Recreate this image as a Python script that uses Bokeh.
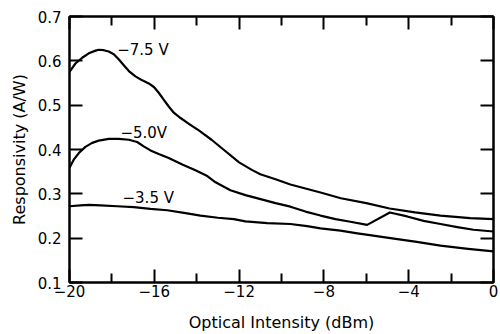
from bokeh.plotting import figure
from bokeh.models import (Range1d, LinearAxis, FixedTicker, ColumnDataSource,
                          CustomJSTickFormatter)
from bokeh.core.properties import value
from bokeh.embed import file_html
from bokeh.resources import INLINE

# ---- data ----
x_75 = [-20.0, -19.72, -19.4, -19.09, -18.77, -18.62, -18.38, -18.15, -17.91,
        -17.67, -17.44, -17.2, -16.89, -16.57, -16.26, -16.02, -15.79, -15.55,
        -15.32, -15.08, -14.76, -14.37, -13.9, -13.3, -12.64, -12.0, -11.4,
        -11.0, -10.28, -9.58, -8.87, -8.16, -7.2, -6.0, -4.9, -3.7, -2.5,
        -1.1, 0.0]
y_75 = [0.575, 0.594, 0.607, 0.617, 0.623, 0.625, 0.624, 0.621, 0.615,
        0.603, 0.590, 0.577, 0.565, 0.556, 0.549, 0.541, 0.528, 0.512,
        0.497, 0.483, 0.471, 0.458, 0.443, 0.422, 0.396, 0.371, 0.354,
        0.344, 0.333, 0.321, 0.312, 0.303, 0.290, 0.279, 0.267, 0.258, 0.251,
        0.245, 0.243]

x_50 = [-20.0, -19.8, -19.56, -19.25, -18.93, -18.62, -18.15, -17.67, -17.2,
        -16.81, -16.5, -16.18, -15.79, -15.32, -14.68, -14.06, -13.5, -13.11,
        -12.41, -11.7, -10.99, -10.28, -9.58, -8.87, -8.16, -7.45, -6.75,
        -5.96, -4.89, -4.07, -3.3, -2.5, -1.71, -0.94, 0.0]
y_50 = [0.359, 0.377, 0.392, 0.406, 0.415, 0.420, 0.424, 0.424, 0.422,
        0.417, 0.407, 0.398, 0.390, 0.381, 0.366, 0.353, 0.340, 0.326,
        0.308, 0.297, 0.288, 0.279, 0.271, 0.260, 0.251, 0.243, 0.237,
        0.230, 0.258, 0.249, 0.239, 0.232, 0.225, 0.219, 0.215]

x_35 = [-20.0, -19.48, -19.09, -18.54, -17.75, -16.97, -16.18, -15.39, -14.6,
        -13.82, -13.0, -12.25, -11.7, -10.67, -9.58, -8.79, -8.16, -7.22,
        -6.42, -6.0, -4.86, -3.7, -2.5, -1.2, 0.0]
y_35 = [0.272, 0.274, 0.275, 0.274, 0.272, 0.270, 0.266, 0.263, 0.257,
        0.251, 0.246, 0.243, 0.238, 0.234, 0.232, 0.227, 0.222, 0.217,
        0.211, 0.208, 0.200, 0.192, 0.183, 0.176, 0.170]

label_text = ["\u22127.5 V", "\u22125.0V", "\u22123.5 V"]
label_x = [-17.75, -17.6, -17.5]
label_y = [0.625, 0.438, 0.290]

x_title = "Optical Intensity (dBm)"
y_title = "Responsivity (A/W)"

x_ticks = [-20, -16, -12, -8, -4, 0]
x_minor = [-18, -14, -10, -6, -2]
x_tick_labels = ["\u221220", "\u221216", "\u221212", "\u22128", "\u22124", "0"]
y_ticks = [0.1, 0.2, 0.3, 0.4, 0.5, 0.6, 0.7]
y_tick_labels = ["0.1", "0.2", "0.3", "0.4", "0.5", "0.6", "0.7"]

FONT = "DejaVu Sans"

p = figure(width=500, height=334, output_backend="svg", toolbar_location=None,
           x_range=Range1d(-20, 0), y_range=Range1d(0.1, 0.7),
           min_border_left=69, min_border_right=7, min_border_top=16,
           min_border_bottom=50, x_axis_label=x_title, y_axis_label=y_title)
p.grid.visible = False
p.outline_line_color = "black"
p.outline_line_width = 2
p.background_fill_color = "white"
p.border_fill_color = "white"

xt = FixedTicker(ticks=x_ticks, minor_ticks=x_minor)
yt = FixedTicker(ticks=y_ticks, minor_ticks=[])

def style(ax, labels=True):
    ax.axis_line_color = "black"
    ax.axis_line_width = 2
    ax.major_tick_line_color = "black"
    ax.major_tick_line_width = 2
    ax.minor_tick_line_color = "black"
    ax.minor_tick_line_width = 2
    ax.major_tick_out = 0
    ax.minor_tick_out = 0
    ax.major_tick_in = 13
    ax.minor_tick_in = 9
    if labels:
        ax.major_label_text_font = FONT
        ax.major_label_text_font_size = "15px"
        ax.major_label_text_color = "black"
        ax.axis_label_text_font = FONT
        ax.axis_label_text_font_size = "16px"
        ax.axis_label_text_font_style = "normal"
        ax.axis_label_text_color = "black"
    else:
        ax.formatter = CustomJSTickFormatter(code="return ''")
        ax.major_label_text_font_size = "1px"
        ax.major_label_standoff = 0

xa = p.xaxis[0]
xa.ticker = xt
xa.major_label_overrides = {t: l for t, l in zip(x_ticks, x_tick_labels)}
style(xa)
xa.major_label_standoff = 2
xa.axis_label_standoff = 13

ya = p.yaxis[0]
ya.ticker = yt
ya.major_label_overrides = {t: l for t, l in zip(y_ticks, y_tick_labels)}
style(ya)
ya.major_label_standoff = 8
ya.axis_label_standoff = 6

top = LinearAxis(ticker=xt)
style(top, labels=False)
p.add_layout(top, "above")

right = LinearAxis(ticker=yt)
style(right, labels=False)
right.minor_tick_in = 0
p.add_layout(right, "right")

for xs, ys in ((x_75, y_75), (x_50, y_50), (x_35, y_35)):
    p.line(xs, ys, line_color="black", line_width=2.2, line_join="round")

src = ColumnDataSource(dict(x=label_x, y=label_y, t=label_text))
p.text("x", "y", text="t", source=src, text_font=value(FONT),
       text_font_size="15px", text_color="black", text_align="left",
       text_baseline="middle")

open("out.html", "w").write(file_html(p, INLINE))
